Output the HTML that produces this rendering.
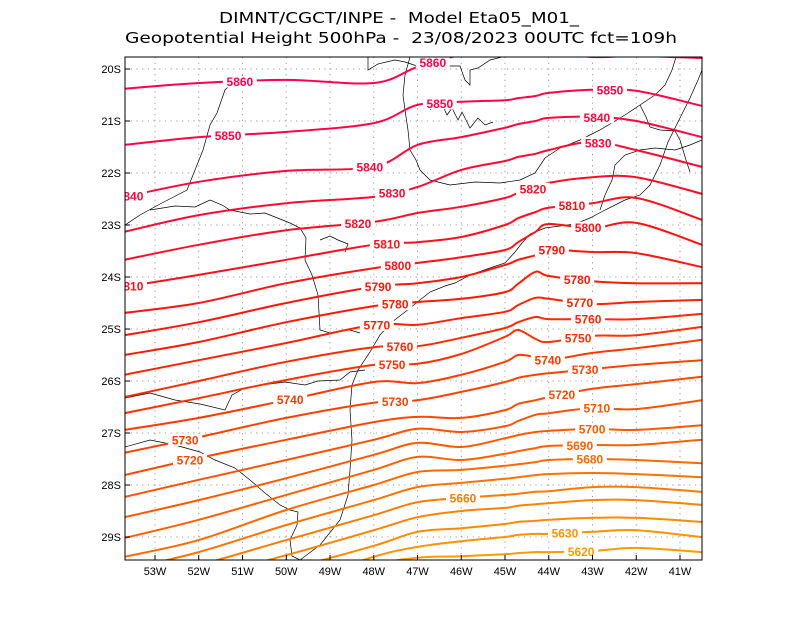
<!DOCTYPE html>
<html><head><meta charset="utf-8"><title>Geopotential Height 500hPa</title>
<style>
html,body{margin:0;padding:0;background:#fff;}
svg{display:block;font-family:"Liberation Sans","DejaVu Sans",sans-serif;}
.title{white-space:pre;font-family:"DejaVu Sans","Liberation Sans",sans-serif;}
</style></head>
<body>
<svg id="chart" width="800" height="618" viewBox="0 0 800 618" xmlns="http://www.w3.org/2000/svg">
<rect width="800" height="618" fill="#fff"/>
<text class="title" xml:space="preserve" x="399" y="23" font-size="15" text-anchor="middle" textLength="360" lengthAdjust="spacingAndGlyphs" fill="#000">DIMNT/CGCT/INPE -  Model Eta05_M01_</text>
<text class="title" xml:space="preserve" x="401" y="43" font-size="15" text-anchor="middle" textLength="552" lengthAdjust="spacingAndGlyphs" fill="#000">Geopotential Height 500hPa -  23/08/2023 00UTC fct=109h</text>
<defs><clipPath id="plotclip"><rect x="125" y="57" width="577" height="503"/></clipPath></defs>
<g id="grid"></g>
<g id="map" clip-path="url(#plotclip)" fill="none" stroke="#000" stroke-width="0.7"></g>
<g id="contours" clip-path="url(#plotclip)"></g>
<g id="labels" clip-path="url(#plotclip)"></g>
<rect x="125" y="57" width="577" height="503" fill="none" stroke="#000" stroke-width="1"/>
<g id="axes"></g>
</svg>
<script>
// ---- data ----
const lons = [-53.7,-52,-50,-48,-47,-46,-45,-44.7,-44.3,-44,-43,-42,-40.5];
const levels = [5860,5850,5840,5830,5820,5810,5800,5790,5780,5770,5760,5750,5740,5730,5720,5710,5700,5690,5680,5670,5660,5650,5640,5630,5620];
// latitude (degrees south) of each contour at each longitude in lons
const lat5860 = [20.38,20.27,20.21,20.27,19.96,19.73,19.63,19.63,19.63,19.67,19.77,19.75,19.79];
const lat5850 = [21.46,21.31,21.21,21.04,20.69,20.63,20.60,20.56,20.52,20.46,20.40,20.42,20.71];
const lat5840 = [22.46,22.17,21.96,21.88,21.46,21.31,21.13,21.06,21.00,20.94,20.92,21.00,21.31];
const lat5830 = [23.13,22.81,22.58,22.46,22.27,21.94,21.77,21.69,21.63,21.56,21.40,21.56,21.88];
const lat5820 = [23.67,23.38,23.10,22.94,22.77,22.65,22.48,22.38,22.29,22.19,22.08,22.08,22.40];
const lat5810 = [24.19,23.96,23.67,23.38,23.33,23.23,23.00,22.87,22.75,22.67,22.58,22.48,22.90];
const lat5800 = [24.69,24.50,24.12,23.83,23.73,23.62,23.48,23.33,23.13,22.98,23.06,22.96,23.38];
const lat5790 = [25.12,24.87,24.50,24.19,24.12,24.00,23.77,23.67,23.58,23.48,23.52,23.54,23.81];
const lat5780 = [25.50,25.25,24.87,24.56,24.48,24.42,24.29,24.13,23.90,23.98,24.08,24.12,24.12];
const lat5770 = [25.88,25.60,25.27,24.92,24.92,24.79,24.67,24.54,24.40,24.42,24.52,24.48,24.44];
const lat5760 = [26.31,26.00,25.63,25.35,25.33,25.17,24.98,24.87,24.77,24.81,24.81,24.81,24.71];
const lat5750 = [26.62,26.33,25.98,25.69,25.67,25.48,25.15,25.02,25.19,25.25,25.13,25.12,24.96];
const lat5740 = [26.94,26.71,26.37,26.02,26.04,25.88,25.63,25.50,25.54,25.60,25.46,25.37,25.21];
const lat5730 = [27.38,27.08,26.71,26.42,26.37,26.21,26.02,25.94,25.88,25.85,25.77,25.69,25.60];
const lat5720 = [27.81,27.48,27.13,26.79,26.69,26.71,26.56,26.44,26.37,26.31,26.15,26.06,25.92];
const lat5710 = [28.23,27.90,27.52,27.13,26.92,26.98,26.87,26.77,26.65,26.62,26.52,26.54,26.37];
const lat5700 = [28.62,28.29,27.87,27.42,27.19,27.27,27.10,27.04,26.98,26.96,26.92,26.94,26.85];
const lat5690 = [29.02,28.67,28.19,27.71,27.46,27.52,27.40,27.35,27.29,27.25,27.23,27.23,27.13];
const lat5680 = [29.38,29.06,28.48,28.00,27.75,27.71,27.63,27.60,27.56,27.52,27.50,27.52,27.58];
const lat5670 = [29.63,29.29,28.77,28.29,28.04,27.96,27.88,27.85,27.81,27.79,27.77,27.79,27.85];
const lat5660 = [29.87,29.54,29.06,28.58,28.33,28.25,28.19,28.17,28.13,28.12,28.04,28.04,28.13];
const lat5650 = [30.10,29.79,29.35,28.87,28.62,28.50,28.44,28.40,28.37,28.35,28.29,28.29,28.38];
const lat5640 = [30.37,30.06,29.63,29.17,28.90,28.83,28.75,28.71,28.69,28.67,28.63,28.63,28.71];
const lat5630 = [30.58,30.31,29.92,29.38,29.19,29.08,29.00,28.96,28.94,28.94,28.90,28.87,29.00];
const lat5620 = [30.81,30.54,30.17,29.56,29.40,29.37,29.33,29.31,29.29,29.29,29.27,29.21,29.29];
const contourLats = [lat5860,lat5850,lat5840,lat5830,lat5820,lat5810,lat5800,lat5790,lat5780,lat5770,lat5760,lat5750,lat5740,lat5730,lat5720,lat5710,lat5700,lat5690,lat5680,lat5670,lat5660,lat5650,lat5640,lat5630,lat5620];
// contour labels: level and longitude where printed
const labelLevels = [5860,5860,5850,5850,5850,5840,5840,5840,5830,5830,5820,5820,5810,5810,5810,5800,5800,5790,5790,5780,5780,5770,5770,5760,5760,5750,5750,5740,5740,5730,5730,5730,5720,5720,5710,5700,5690,5680,5660,5630,5620];
const labelLons = [-51.06,-46.65,-51.33,-46.49,-42.6,-53.57,-48.09,-42.9,-47.58,-42.87,-48.36,-44.36,-53.57,-47.70,-43.47,-47.45,-43.1,-47.9,-43.93,-47.51,-43.35,-47.93,-43.29,-47.4,-43.1,-47.58,-43.33,-49.91,-44.02,-52.31,-47.51,-43.17,-52.2,-43.7,-42.9,-43.01,-43.29,-43.06,-45.96,-43.63,-43.26];
const lonTicks = [-53,-52,-51,-50,-49,-48,-47,-46,-45,-44,-43,-42,-41];
const latTicks = [20,21,22,23,24,25,26,27,28,29];

// ---- axis functions ----
const X0=125, X1=702, Y0=57, Y1=560;
function xScale(lon){ return 155 + (lon + 53) * 43.75; }
function yScale(lat){ return 69 + (lat - 20) * 52; }
const NS="http://www.w3.org/2000/svg";
function mk(tag, attrs, parent){ const e=document.createElementNS(NS,tag); for(const k in attrs) e.setAttribute(k,attrs[k]); parent.appendChild(e); return e; }

// grid
const grid=document.getElementById('grid');
lonTicks.forEach(function(lon){
  const x=xScale(lon);
  const l=mk('line',{x1:x,y1:Y0,x2:x,y2:Y1,stroke:'#999','stroke-width':1,'stroke-dasharray':'1.2,4.5'},grid);
  
  
});
latTicks.forEach(function(lat){
  const y=yScale(lat);
  const l=mk('line',{x1:X0,y1:y,x2:X1,y2:y,stroke:'#999','stroke-width':1,'stroke-dasharray':'1.2,4.5'},grid);
  
  
});

// axes
const axes=document.getElementById('axes');
lonTicks.forEach(function(lon){
  const x=xScale(lon);
  mk('line',{x1:x,y1:Y1,x2:x,y2:Y1-5,stroke:'#000','stroke-width':1},axes);
  const t=mk('text',{x:x,y:Y1+15,'font-size':11,'text-anchor':'middle',fill:'#000'},axes);
  t.textContent=Math.abs(lon)+'W';
  
  
});
latTicks.forEach(function(lat){
  const y=yScale(lat);
  mk('line',{x1:X0,y1:y,x2:X0+5,y2:y,stroke:'#000','stroke-width':1},axes);
  const t=mk('text',{x:X0-4,y:y+4,'font-size':11,'text-anchor':'end',fill:'#000'},axes);
  t.textContent=lat+'S';
  
  
});

// coastline / borders (approximate geography)
const mapG=document.getElementById('map');
const mapLines=[
 "M125,225 L140,215 L160,204 L187,190 L195,170 L203,150 L210,125 L217,113 L225,90 L235,80 L243,75",
 "M368,57 L368,70 L378,64 L395,60 L405,62 L420,67 L440,66 L460,66 L465,80 L470,85 L470,70 L478,68 L490,60 L510,55",
 "M150,210 L175,206 L195,207 L210,200 L222,205 L230,210 L250,214 L265,213 L290,223 L300,228 L306,238 L305,260 L312,275 L318,295 L320,330 L330,333 L340,331 L350,330 L360,333",
 "M125,398 L150,393 L175,400 L200,404 L225,410 L232,395 L245,388 L262,385 L285,382 L305,385 L318,381 L340,380 L350,372 L365,370",
 "M125,447 L150,440 L175,445 L200,452 L215,460 L235,468 L250,480 L265,493 L280,505 L290,510 L298,512 L297,525 L290,540 L292,556 L300,560",
 "M300,560 L320,545 L340,520 L348,495 L350,470 L352,440 L350,410 L352,385 L358,370 L370,352 L380,335 L392,322 L405,312 L420,300 L430,292 L445,286 L455,283 L470,275 L490,268 L505,263 L515,252 L522,243 L530,234 L545,228 L560,226 L575,224 L590,218 L605,210 L625,200 L640,195 L650,185 L660,165 L668,142 L680,118 L690,98 L698,80 L702,70",
 "M410,57 L405,75 L403,95 L405,110 L408,130 L410,150 L416,160 L420,170 L430,180 L450,185 L475,182 L500,183 L520,180 L535,173 L545,158 L560,148 L580,140 L600,130 L625,115 L640,105 L655,95 L665,85 L672,70 L676,57",
 "M640,105 L646,117 L650,127 L660,130 L675,131 L680,140 L686,160 L690,172",
 "M600,210 L605,195 L612,180 L615,165 L625,155 L640,150 L655,148 L675,150 L690,145 L702,140",
 "M430,110 L440,100 L447,115 L452,108 L458,120 L462,112 L470,128 L478,118 L485,125 L493,122",
 "M320,240 L330,236 L338,240 L348,244 L345,252"
];
mapLines.forEach(function(d){
  const p=mk('path',{d:d},mapG);
  
  
});

// contour colours by level
function levelColor(lev){
  const t=(5860-lev)/240;
  let r,g,b;
  if(t<0.33){ const u=t/0.33; r=255; g=Math.round(0+u*24); b=Math.round(80-u*80); }
  else { const u=(t-0.33)/0.67; r=255; g=Math.round(24+u*130); b=0; }
  return 'rgb('+r+','+g+','+b+')';
}

// smooth path through points (Catmull-Rom)
function smoothPath(pts){
  let d='M'+pts[0][0].toFixed(1)+','+pts[0][1].toFixed(1);
  for(let i=0;i<pts.length-1;i++){
    const p0=pts[Math.max(0,i-1)], p1=pts[i], p2=pts[i+1], p3=pts[Math.min(pts.length-1,i+2)];
    const c1=[p1[0]+(p2[0]-p0[0])/6, p1[1]+(p2[1]-p0[1])/6];
    const c2=[p2[0]-(p3[0]-p1[0])/6, p2[1]-(p3[1]-p1[1])/6];
    d+=' C'+c1[0].toFixed(1)+','+c1[1].toFixed(1)+' '+c2[0].toFixed(1)+','+c2[1].toFixed(1)+' '+p2[0].toFixed(1)+','+p2[1].toFixed(1);
  }
  return d;
}

const contG=document.getElementById('contours');
levels.forEach(function(lev,i){
  const pts=lons.map(function(lon,j){ return [xScale(lon), yScale(contourLats[i][j])]; });
  const p=mk('path',{d:smoothPath(pts),fill:'none',stroke:levelColor(lev),'stroke-width':2,'stroke-linejoin':'round'},contG);
  
  
});

function latAt(idx, lon){
  const arr=contourLats[idx];
  for(let j=0;j<lons.length-1;j++){
    if(lon>=lons[j] && lon<=lons[j+1]){
      const f=(lon-lons[j])/(lons[j+1]-lons[j]);
      return arr[j]+(arr[j+1]-arr[j])*f;
    }
  }
  return lon<lons[0]?arr[0]:arr[arr.length-1];
}

const labG=document.getElementById('labels');
labelLevels.forEach(function(lev,k){
  const idx=levels.indexOf(lev);
  const lon=labelLons[k];
  const x=xScale(lon), y=yScale(latAt(idx,lon));
  const bg=mk('rect',{x:x-17,y:y-6,width:34,height:12,fill:'#fff'},labG);
  
  
  const t=mk('text',{x:x,y:y+4.5,'font-size':12,'font-weight':'bold','text-anchor':'middle',fill:levelColor(lev)},labG);
  t.textContent=String(lev);
  
  
});
</script>
</body></html>
